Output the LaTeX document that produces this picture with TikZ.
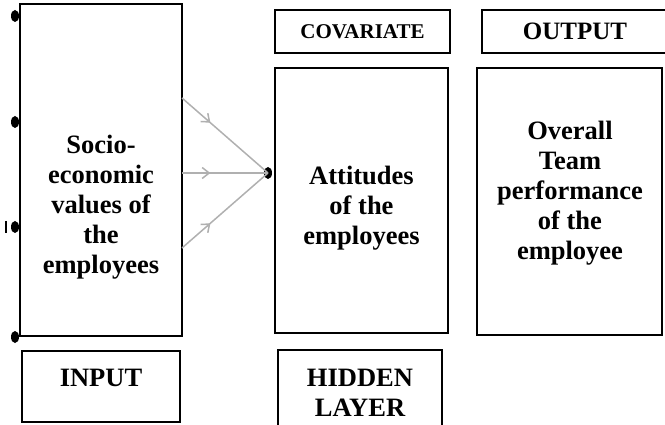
\documentclass[tikz,border=0pt]{standalone}
\usepackage{fontspec}
\setmainfont{Liberation Serif}
\usetikzlibrary{
  arrows.meta,
  shapes.geometric,
  decorations.markings
}
\definecolor{nnEdge}{HTML}{B0B0B0}
\definecolor{nnInk}{HTML}{000000}
\tikzset{
  layer/.style={
    draw=nnInk, line width=1.8pt, inner sep=0pt, fill=white
  },
  tagbox/.style={layer, line width=1.6pt},
  bigtext/.style={font=\fontsize{26.5}{30}\selectfont\bfseries, align=center},
  tagtext/.style={font=\fontsize{21}{25}\selectfont\bfseries, align=center},
  blob/.style={ellipse, fill=nnInk, inner sep=0pt, minimum width=8pt, minimum height=12pt},
  weight/.style={
    draw=nnEdge, line width=1.5pt,
    decoration={markings, mark=at position 0.33 with {\arrow{Straight Barb[length=7pt,width=11pt]}}},
    postaction={decorate}
  }
}

\begin{document}
\begin{tikzpicture}[x=1pt, y=-1pt]
  \useasboundingbox (0,0) rectangle (665,425);

  % three layers
  \node[layer, minimum width=162pt, minimum height=332pt] (inbox) at (101,170) {};
  \node[layer, minimum width=173pt, minimum height=265pt] (hidbox) at (361.5,200.5) {};
  \node[layer, minimum width=185pt, minimum height=267pt] (outbox) at (569.5,201.5) {};

  \node[bigtext] (intext) at (101,207) {Socio-\\economic\\values of\\the\\employees};
  \node[bigtext] (hidtext) at (361.5,208) {Attitudes\\of the\\employees};
  \node[bigtext] (outtext) at (570,193) {Overall\\Team\\performance\\of the\\employee};

  % captions above and below
  \node[tagbox, minimum width=175pt, minimum height=43pt] (covbox) at (362.5,31.5) {};
  \node[tagtext] at (covbox) {COVARIATE};
  \node[tagbox, minimum width=186pt, minimum height=43pt] (outtag) at (575,31.5) {};
  \node[bigtext, font=\fontsize{25}{28}\selectfont\bfseries] at (outtag) {OUTPUT};

  \node[tagbox, minimum width=158pt, minimum height=71pt] (intag) at (101,386.5) {};
  \node[bigtext, anchor=base] at (101,386) {INPUT};
  \node[tagbox, minimum width=164pt, minimum height=80pt] (hidtag) at (360,390) {};
  \node[bigtext] at (360,393) {HIDDEN\\LAYER};

  % input units on the left edge
  \foreach \y [count=\i] in {16,122,227,337}
    \node[blob] (in\i) at (15,\y) {};
  \draw[line width=2pt] (6,221) -- (6,233);

  % weights into the hidden unit
  \node[blob] (hub) at (268,173) {};
  \coordinate (w1) at (182,98);
  \coordinate (w2) at (182,173);
  \coordinate (w3) at (182,248);
  \foreach \w in {w1,w2,w3}
    \draw[weight] (\w) -- (hub.center);
\end{tikzpicture}
\end{document}
